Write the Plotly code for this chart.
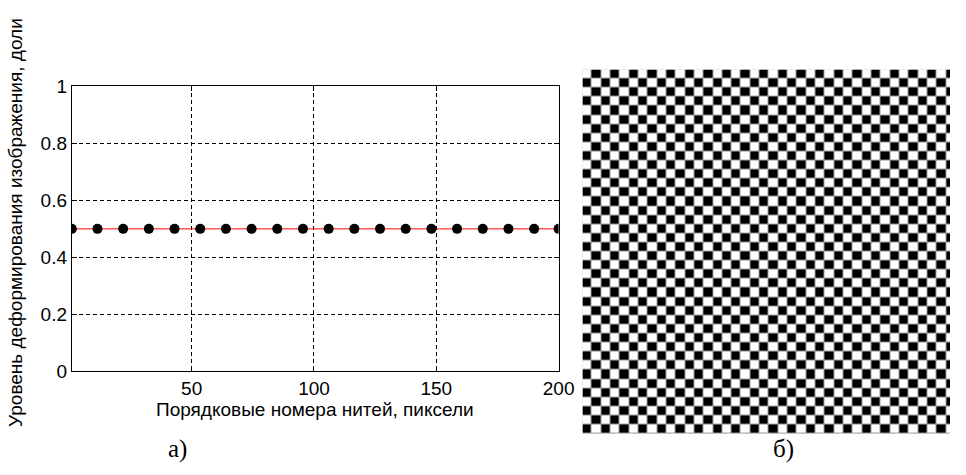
import plotly.graph_objects as go

# ---- data ----
thread_x = [1, 11.5, 22, 32.5, 43, 53.5, 64, 74.5, 85, 95.5, 106, 116.5,
            127, 137.5, 148, 158.5, 169, 179.5, 190, 200]
deform_level = [0.5] * len(thread_x)
x_ticks = [50, 100, 150, 200]
y_ticks = [0, 0.2, 0.4, 0.6, 0.8, 1]
y_tick_labels = ["0", "0.2", "0.4", "0.6", "0.8", "1"]
board_rows = 40
board_cols = 40
board = [[(r + c) % 2 for c in range(board_cols)] for r in range(board_rows)]

W, H = 966, 475
CELL = 9.48
fig = go.Figure()

fig.add_trace(go.Scatter(
    x=thread_x, y=deform_level, mode="lines+markers",
    line=dict(color="#ff0000", width=1),
    marker=dict(color="black", size=10),
    showlegend=False, xaxis="x", yaxis="y"))

fig.add_trace(go.Heatmap(
    z=board, xaxis="x2", yaxis="y2",
    colorscale=[[0, "white"], [1, "black"]], showscale=False,
    zmin=0, zmax=1, xgap=1, ygap=1, hoverinfo="skip"))

FONT = "Liberation Sans, Arial"
ax_common = dict(showline=True, linecolor="black", linewidth=1, mirror="ticks",
                 ticks="inside", ticklen=5, tickcolor="black",
                 showgrid=True, gridcolor="black", gridwidth=1, griddash="4px,3px",
                 zeroline=False,
                 tickfont=dict(family=FONT, size=19, color="black"))

fig.update_layout(
    width=W, height=H, autosize=False,
    margin=dict(l=0, r=0, t=0, b=0),
    paper_bgcolor="white", plot_bgcolor="white",
    xaxis=dict(domain=[73 / W, 568 / W], range=[1, 200], tickvals=x_ticks,
               anchor="y", **ax_common),
    yaxis=dict(domain=[1 - 378 / H, 1 - 80 / H], range=[0, 1], tickvals=y_ticks,
               ticktext=y_tick_labels, anchor="x", **ax_common),
    xaxis2=dict(domain=[592.3 / W, 1], range=[-0.5, -0.5 + (W - 592.3) / CELL],
                visible=False, anchor="y2"),
    yaxis2=dict(domain=[1 - 443.3 / H, 1 - 62.3 / H], range=[board_rows - 0.5, -0.5],
                visible=False, anchor="x2"),
)

fig.add_shape(type="rect", xref="x2", yref="y2", x0=-0.5, x1=board_cols - 0.5,
              y0=-0.5, y1=board_rows - 0.5, fillcolor="#9a9a9a",
              line=dict(width=0), layer="below")

annos = [
    dict(text="Порядковые номера нитей, пиксели", x=320 / W, y=1 - 418 / H,
         font=dict(family=FONT, size=19, color="black")),
    dict(text="Уровень деформирования изображения, доли", x=15 / W, y=1 - 222 / H,
         textangle=-90,
         font=dict(family=FONT, size=19, color="black")),
    dict(text="а)", x=180 / W, y=1 - 459 / H,
         font=dict(family="Liberation Serif, Times New Roman", size=25, color="black")),
    dict(text="б)", x=797 / W, y=1 - 459 / H,
         font=dict(family="Liberation Serif, Times New Roman", size=25, color="black")),
]
for a in annos:
    fig.add_annotation(xref="paper", yref="paper", showarrow=False,
                       xanchor="center", yanchor="middle", **a)

fig.write_html("out.html",
               config={"responsive": False, "displayModeBar": False},
               post_script="document.body.style.margin='0px';"
                           "document.body.style.overflow='hidden';")
